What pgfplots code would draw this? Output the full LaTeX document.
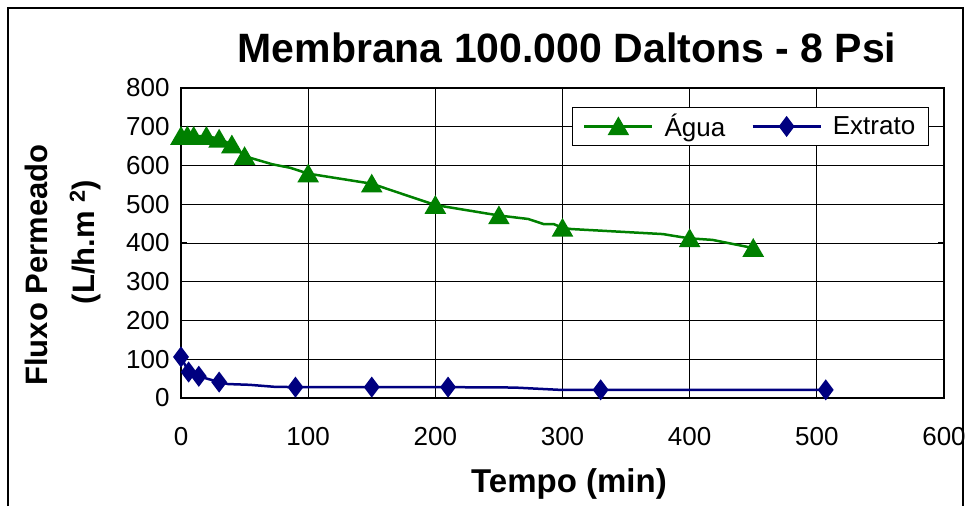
\documentclass[border=0pt]{standalone}
\usepackage{pgfplots}
\pgfplotsset{compat=1.18}
\usepackage{fontspec}
\setmainfont{Liberation Sans}
\definecolor{agua}{RGB}{0,128,0}
\definecolor{extr}{RGB}{0,0,128}
\begin{document}
\begin{tikzpicture}[x=1pt,y=1pt]
\useasboundingbox (0,0) rectangle (966,506);
\draw[line width=1.2pt] (8,0) -- (8,498) -- (963,498) -- (963,0);
\begin{axis}[
  at={(181pt,108pt)}, anchor=south west,
  scale only axis, width=763pt, height=310pt,
  xmin=0, xmax=600, ymin=0, ymax=800,
  xtick={0,100,...,600}, ytick={0,100,...,800},
  grid=major, major grid style={black, line width=0.9pt},
  axis line style={black, line width=2pt},
  tick style={black, line width=1pt}, major tick length=6pt, tick align=inside,
  ticklabel style={font=\fontsize{26}{30}\selectfont},
  /pgf/number format/assume math mode=true,
  /pgf/number format/set thousands separator={},
  xticklabel style={yshift=-26pt},
  yticklabel style={xshift=-8pt},
  legend columns=2,
  legend cell align=left,
  legend style={at={(rel axis cs:0.512,0.939)}, anchor=north west, draw=black, line width=1pt,
    font=\fontsize{26}{30}\selectfont, inner xsep=11pt, inner ysep=5pt,
    /tikz/every odd column/.append style={column sep=9pt},
    /tikz/every even column/.append style={column sep=24pt}},
  legend image code/.code={\draw[#1, mark indices={2}] plot coordinates {(0pt,0pt)(34pt,0pt)(68pt,0pt)};},
]
\addplot[agua, line width=2.5pt, mark=triangle*, mark size=10pt,
  mark options={solid, yshift=-2.5pt},
  mark indices={1,2,3,4,5,6,7,10,11,12,13,17,21,23}] coordinates {
  (0,676) (5,677) (10,676) (20,676) (30,669) (40,654) (50,624)
  (72,603) (86,594) (100,579) (150,553) (200,498) (250,471)
  (273,462) (285,449) (293,449) (300,439) (307,436) (379,423)
  (392,416) (400,412) (418,408) (450,387)
};
\addlegendentry{Água}
\addplot[extr, line width=2.5pt, mark=diamond*, mark size=8.5pt,
  mark options={solid},
  mark indices={1,2,3,4,8,9,10,13,14}] coordinates {
  (0,106) (6,67) (14,56) (30,41) (37,36) (54,34) (73,29)
  (90,28) (150,28) (210,28) (262,27) (298,21) (330,21) (507,21)
};
\addlegendentry{Extrato}
\end{axis}
\node[font=\fontsize{41}{45}\selectfont\bfseries, anchor=base] at (567,443) {Membrana 100.000 Daltons - 8 Psi};
\node[font=\fontsize{33}{37}\selectfont\bfseries, anchor=base] at (569,14) {Tempo (min)};
\node[font=\fontsize{31}{35}\selectfont\bfseries, anchor=base, rotate=90] at (47,241) {Fluxo Permeado};
\node[font=\fontsize{31}{35}\selectfont\bfseries, anchor=base, rotate=90] at (94,264) {(L/h.m \textsuperscript{2})};
\end{tikzpicture}
\end{document}
